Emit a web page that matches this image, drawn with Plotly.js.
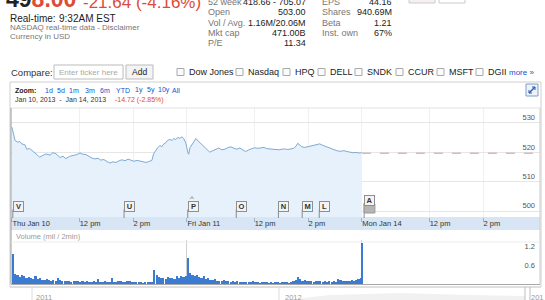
<!DOCTYPE html>
<html><head><meta charset="utf-8">
<script src="https://cdn.plot.ly/plotly-3.0.1.min.js"></script>
<style>html,body{margin:0;padding:0;background:#fff;}#chart{width:545px;height:300px;}</style>
</head><body><div id="chart"></div>
<script>
// ---------------- DATA ----------------
const quoteLastA = "49";
const quoteLastB = "8.00";
const quoteChange = "-21.64 (-4.16%)";
const realTimeLabel = "Real-time:";
const realTimeValue = "9:32AM EST";
const sourceNote = "NASDAQ real-time data - Disclaimer";
const currencyNote = "Currency in USD";
const statLabelsA = ["52 week", "Open", "Vol / Avg.", "Mkt cap", "P/E"];
const statValuesA = ["418.66 - 705.07", "503.00", "1.16M/20.06M", "471.00B", "11.34"];
const statLabelsB = ["EPS", "Shares", "Beta", "Inst. own"];
const statValuesB = ["44.16", "940.69M", "1.21", "67%"];
const compareTickers = ["Dow Jones", "Nasdaq", "HPQ", "DELL", "SNDK", "CCUR", "MSFT", "DGII"];
const zoomLinks = ["1d", "5d", "1m", "3m", "6m", "YTD", "1y", "5y", "10y", "All"];
const rangeText = "Jan 10, 2013  -  Jan 14, 2013";
const rangeChange = "-14.72 (-2.85%)";

// x axis = trading minutes since Thu Jan 10 9:30 (390 per session)
const xTickMinutes = [0, 150, 270, 390, 540, 660, 780, 930, 1050];
const xTickLabels = ["Thu Jan 10", "12 pm", "2 pm", "Fri Jan 11", "12 pm", "2 pm", "Mon Jan 14", "12 pm", "2 pm"];
const sessionStarts = [0, 390, 780];

const priceMinutes = [0,4,7,13,18,22,29,33,40,47,53,62,69,76,85,91,98,107,114,120,129,136,143,152,158,165,172,178,185,192,198,205,212,218,225,232,238,245,252,259,265,272,279,285,292,299,305,312,316,321,325,330,334,339,343,347,352,357,361,365,370,374,379,383,388,392,394,397,401,406,410,415,419,423,428,435,441,448,455,461,468,475,481,488,495,501,508,515,521,528,535,541,548,555,562,568,575,582,588,595,602,608,615,622,628,633,637,642,646,653,660,666,673,680,686,693,700,707,713,720,726,733,740,747,753,760,767,773,779];
const priceValues = [528.5,526.0,524.0,523.4,523.6,522.8,522.5,521.0,521.2,520.3,519.6,518.3,518.9,519.4,519.0,519.8,519.5,518.2,518.6,517.8,518.6,518.8,519.1,519.7,519.3,519.2,518.5,518.0,517.7,517.9,517.3,517.5,516.8,516.3,516.7,516.5,517.0,517.4,517.1,517.6,517.3,516.9,517.2,517.0,516.7,516.5,516.8,517.2,519.5,520.9,521.5,522.3,521.8,522.9,523.2,524.0,524.3,524.0,524.6,524.3,525.0,524.7,525.2,524.6,522.9,520.0,519.3,521.5,522.6,523.9,524.6,523.8,523.2,522.4,521.6,520.9,520.0,520.5,521.1,521.4,520.8,521.0,521.5,521.8,521.3,521.0,521.4,520.6,520.2,520.8,521.1,521.5,521.3,521.4,521.6,521.2,521.1,520.9,521.0,520.8,521.0,521.1,520.9,521.2,521.3,522.0,523.0,522.4,521.8,521.6,521.9,522.0,522.4,522.6,522.8,522.3,521.9,521.5,521.1,520.7,520.4,520.3,520.5,520.2,520.0,519.8,519.9,519.7,519.8];
const prevClose = 519.64;
const prevCloseMinutes = [780, 1177];
const priceTicks = [500, 510, 520, 530];

// volume (millions per 2 min), read every 5 minutes
const volBinMinutes = 5;
const volJan10 = [0.95,0.32,0.28,0.22,0.30,0.25,0.18,0.22,0.20,0.16,0.24,0.15,0.18,0.14,0.12,0.17,0.13,0.10,0.12,0.09,0.20,0.12,0.10,0.09,0.08,0.10,0.07,0.09,0.08,0.10,0.07,0.08,0.06,0.09,0.07,0.06,0.08,0.07,0.15,0.07,0.06,0.08,0.07,0.06,0.18,0.07,0.06,0.08,0.09,0.06,0.07,0.08,0.10,0.07,0.06,0.05,0.06,0.05,0.04,0.05,0.06,0.05,0.07,0.45,0.30,0.22,0.18,0.20,0.16,0.22,0.18,0.20,0.17,0.24,0.19,0.26,0.22,0.25];
const volJan11 = [0.82,0.35,0.28,0.24,0.30,0.22,0.18,0.25,0.17,0.20,0.14,0.12,0.15,0.10,0.11,0.09,0.13,0.08,0.09,0.07,0.08,0.06,0.09,0.07,0.06,0.05,0.07,0.06,0.05,0.08,0.05,0.06,0.04,0.05,0.06,0.05,0.04,0.05,0.04,0.05,0.05,0.04,0.05,0.06,0.05,0.04,0.06,0.08,0.12,0.22,0.16,0.10,0.14,0.09,0.08,0.11,0.07,0.09,0.08,0.10,0.07,0.09,0.06,0.08,0.07,0.09,0.07,0.15,0.12,0.09,0.10,0.08,0.11,0.12,0.10,0.13,0.16,0.20];
const volJan14 = [1.32];
const volTicks = [0.6, 1.2];
const volLabel = "Volume (mil / 2min)";

const newsLetters = ["V", "U", "P", "O", "N", "M", "L", "A"];
const newsMinutes = [2, 250, 392, 500, 594, 647, 685, 785];
const overviewYears = ["2011", "2012", "201"];

// ---------------- LAYOUT HELPERS ----------------
const W = 545, H = 300;
const F = "Liberation Sans, Arial, sans-serif";
const px = x => x / W, py = y => 1 - y / H;
const RED = "#dd4b39", BLUE = "#1155cc";
const ann = [], shp = [];
function T(text, x, y, size, color, xa, extra) {
  const a = {text: text, x: px(x), y: py(y), xref: "paper", yref: "paper",
    xanchor: xa || "left", yanchor: "middle", showarrow: false,
    font: {family: F, size: size, color: color}};
  if (extra) Object.assign(a, extra);
  ann.push(a);
}
function R(x0, y0, x1, y1, line, fill, lw) {
  shp.push({type: "rect", xref: "paper", yref: "paper", x0: px(x0), x1: px(x1), y0: py(y0), y1: py(y1),
    line: {color: line || "rgba(0,0,0,0)", width: lw === undefined ? 1 : lw}, fillcolor: fill || "rgba(0,0,0,0)", layer: "below"});
}
function L(x0, y0, x1, y1, color, w, dash) {
  shp.push({type: "line", xref: "paper", yref: "paper", x0: px(x0), x1: px(x1), y0: py(y0), y1: py(y1),
    line: {color: color, width: w || 1, dash: dash || "solid"}});
}

// header
T(quoteLastA + "<span style='color:" + RED + "'>" + quoteLastB + "</span>", 4, -1, 23, "#222", "left", {font: {family: F, size: 23, color: "#222", weight: "bold"}});
T(quoteChange, 81, 2, 17, RED);
T(realTimeLabel, 8, 18, 10, "#222");
T(realTimeValue, 57, 18, 10, "#222");
T(sourceNote, 8, 27.5, 8, "#777");
T(currencyNote, 8, 36, 8, "#777");
const statRowY = [1.7, 12.3, 22.7, 33, 43.3];
statLabelsA.forEach((s, i) => { T(s, 206, statRowY[i], 9, "#777"); T(statValuesA[i], 308, statRowY[i], 9, "#222", "right"); });
statLabelsB.forEach((s, i) => { T(s, 320, statRowY[i], 9, "#777"); T(statValuesB[i], 394, statRowY[i], 9, "#222", "right"); });
R(409, -3, 435, 3, "#ccc", "#f6f0f0");
R(439, -3, 465, 3, "#ccc", "#fff");

// compare row
T("Compare:", 9, 72, 9.5, "#333");
R(54, 65, 123, 79, "#bbb", "#fff");
T("Enter ticker here", 57, 72, 8, "#aaa");
R(126, 65, 153, 79, "#bbb", "#f4f4f4");
T("Add", 139.5, 72, 8.5, "#222", "center");
const cbX = [177, 236, 283, 318, 355, 396, 437, 476];
compareTickers.forEach((s, i) => { R(cbX[i], 68.5, cbX[i] + 7, 75.5, "#aaa", "#fbfbfb"); T(s, cbX[i] + 10, 72, 9, "#222"); });
T("more »", 507, 72.5, 8, BLUE);

// chart frame
R(10, 82, 541, 287, "#cfcfcf", "#fff");
T("<b>Zoom:</b>", 13, 90, 7, "#222");
const zoomX = [43, 55, 67, 83, 98, 114, 133, 145, 156, 170];
zoomLinks.forEach((s, i) => T(s, zoomX[i], 90, 7, BLUE));
T(rangeText, 13, 100, 7, "#333");
T(rangeChange, 113, 100, 7, RED);
R(526, 84, 538, 96, "#7f9fc8", "#eef3fa");
L(529, 93, 535, 87, "#2f5fb0", 1.5);
L(529, 93, 529, 90, "#2f5fb0", 1); L(529, 93, 532, 93, "#2f5fb0", 1);
L(535, 87, 532, 87, "#2f5fb0", 1); L(535, 87, 535, 90, "#2f5fb0", 1);

// plot area frames
L(11, 108, 540, 108, "#e2e2e2", 1);
R(11, 217, 540, 230, null, "#d8e5f4", 0);
L(11, 108, 11, 284, "#9a9a9a", 1);
L(540, 108, 540, 284, "#cfcfcf", 1);
T(volLabel, 14, 236.5, 7.5, "#9a9a9a");
L(11, 242, 540, 242, "#ececec", 1);

// overview strip
L(10, 287, 541, 287, "#d8d8d8", 1);
shp.push({type: "path", xref: "paper", yref: "paper",
  path: "M " + px(285) + " " + py(300) + " L " + px(330) + " " + py(295) + " L " + px(400) + " " + py(293) + " L " + px(470) + " " + py(295) + " L " + px(525) + " " + py(296) + " L " + px(525) + " " + py(300) + " Z",
  line: {width: 0}, fillcolor: "#f1f1f1", layer: "below"});
L(32, 287, 32, 300, "#dcdcdc", 1);
L(279, 287, 279, 300, "#dcdcdc", 1);
L(525, 287, 525, 300, "#bdbdbd", 1);
L(530, 287, 530, 300, "#bdbdbd", 1);
const yearX = [34, 283, 529];
overviewYears.forEach((s, i) => T(s, yearX[i], 297.5, 7.5, "#9a9a9a"));

// news flags
const flagTop = {"A": 195};
newsLetters.forEach((s, i) => {
  const top = flagTop[s] || 201.5;
  shp.push({type: "line", xref: "x", yref: "paper", x0: newsMinutes[i], x1: newsMinutes[i], y0: py(top + 8), y1: py(218), line: {color: "#8a8a8a", width: 1}});
  ann.push({text: "<b>" + s + "</b>", x: newsMinutes[i], xref: "x", y: py(top + 5), yref: "paper", xanchor: "left", yanchor: "middle",
    showarrow: false, width: 8, height: 8, borderpad: 0.5, bgcolor: "#f3f3f3", bordercolor: "#8f8f8f", borderwidth: 1,
    font: {family: F, size: 7.5, color: "#333"}});
  if (s === "P") ann.push({text: "^", x: newsMinutes[i] + 1, xref: "x", y: py(198.5), yref: "paper", xanchor: "left", yanchor: "middle", showarrow: false, font: {family: F, size: 8, color: "#666"}});
  if (s === "A") shp.push({type: "rect", xref: "x", yref: "paper", x0: newsMinutes[i], x1: newsMinutes[i] + 24, y0: py(213), y1: py(204), line: {color: "#999", width: 1}, fillcolor: "#b5b5b5"});
});

// ---------------- TRACES ----------------
function volX(day, arr) { return arr.map((v, i) => sessionStarts[day] + i * volBinMinutes + volBinMinutes / 2); }
const traces = [
  {type: "scatter", mode: "lines", x: priceMinutes, y: priceValues, line: {color: "#7eaad6", width: 1},
   fill: "tozeroy", fillcolor: "#e6f1fb", hoverinfo: "skip", xaxis: "x", yaxis: "y"},
  {type: "scatter", mode: "lines", x: prevCloseMinutes, y: prevCloseMinutes.map(() => prevClose),
   line: {color: "#c89a9a", width: 1, dash: "dash"}, hoverinfo: "skip", xaxis: "x", yaxis: "y"},
  {type: "bar", x: volX(0, volJan10).concat(volX(1, volJan11)).concat(volX(2, volJan14).map(v => v - 1.5)),
   y: volJan10.concat(volJan11).concat(volJan14), width: 4.8, marker: {color: "#3b7bd2", line: {width: 0}},
   hoverinfo: "skip", xaxis: "x2", yaxis: "y2"}
];

const xDom = [px(11), px(540)];
const layout = {
  width: W, height: H, margin: {l: 0, r: 0, t: 0, b: 0}, showlegend: false,
  paper_bgcolor: "#fff", plot_bgcolor: "rgba(0,0,0,0)", bargap: 0,
  xaxis: {domain: xDom, range: [-2, 1177], anchor: "y", tickmode: "array", tickvals: xTickMinutes, ticktext: xTickLabels,
    ticks: "outside", ticklen: 4, tickcolor: "#9fb2c8", ticklabelposition: "outside right", ticklabelstandoff: -1,
    tickfont: {family: F, size: 7.5, color: "#333"}, showgrid: true, gridcolor: "#eef1f4", zeroline: false, showline: false, fixedrange: true},
  yaxis: {domain: [py(217), py(108)], range: [497.96, 535], side: "right", tickmode: "array", tickvals: priceTicks,
    ticklabelposition: "inside top", ticklabelstandoff: 2, tickfont: {family: F, size: 7.5, color: "#555"},
    showgrid: true, gridcolor: "#e6e6e6", zeroline: false, showline: false, ticks: "", fixedrange: true},
  xaxis2: {domain: xDom, range: [-2, 1177], anchor: "y2", showticklabels: false, ticks: "", tickmode: "array", tickvals: sessionStarts.slice(1),
    showgrid: true, gridcolor: "#cfcfcf", zeroline: false, showline: true, linecolor: "#a8a8a8", fixedrange: true},
  yaxis2: {domain: [py(284), py(240)], range: [0, 1.4], side: "right", tickmode: "array", tickvals: volTicks,
    ticklabelposition: "inside", ticklabelstandoff: 2, tickfont: {family: F, size: 7.5, color: "#555"},
    showgrid: false, zeroline: false, showline: false, ticks: "", fixedrange: true},
  shapes: shp, annotations: ann
};
Plotly.newPlot("chart", traces, layout, {displayModeBar: false, staticPlot: true});
</script></body></html>
